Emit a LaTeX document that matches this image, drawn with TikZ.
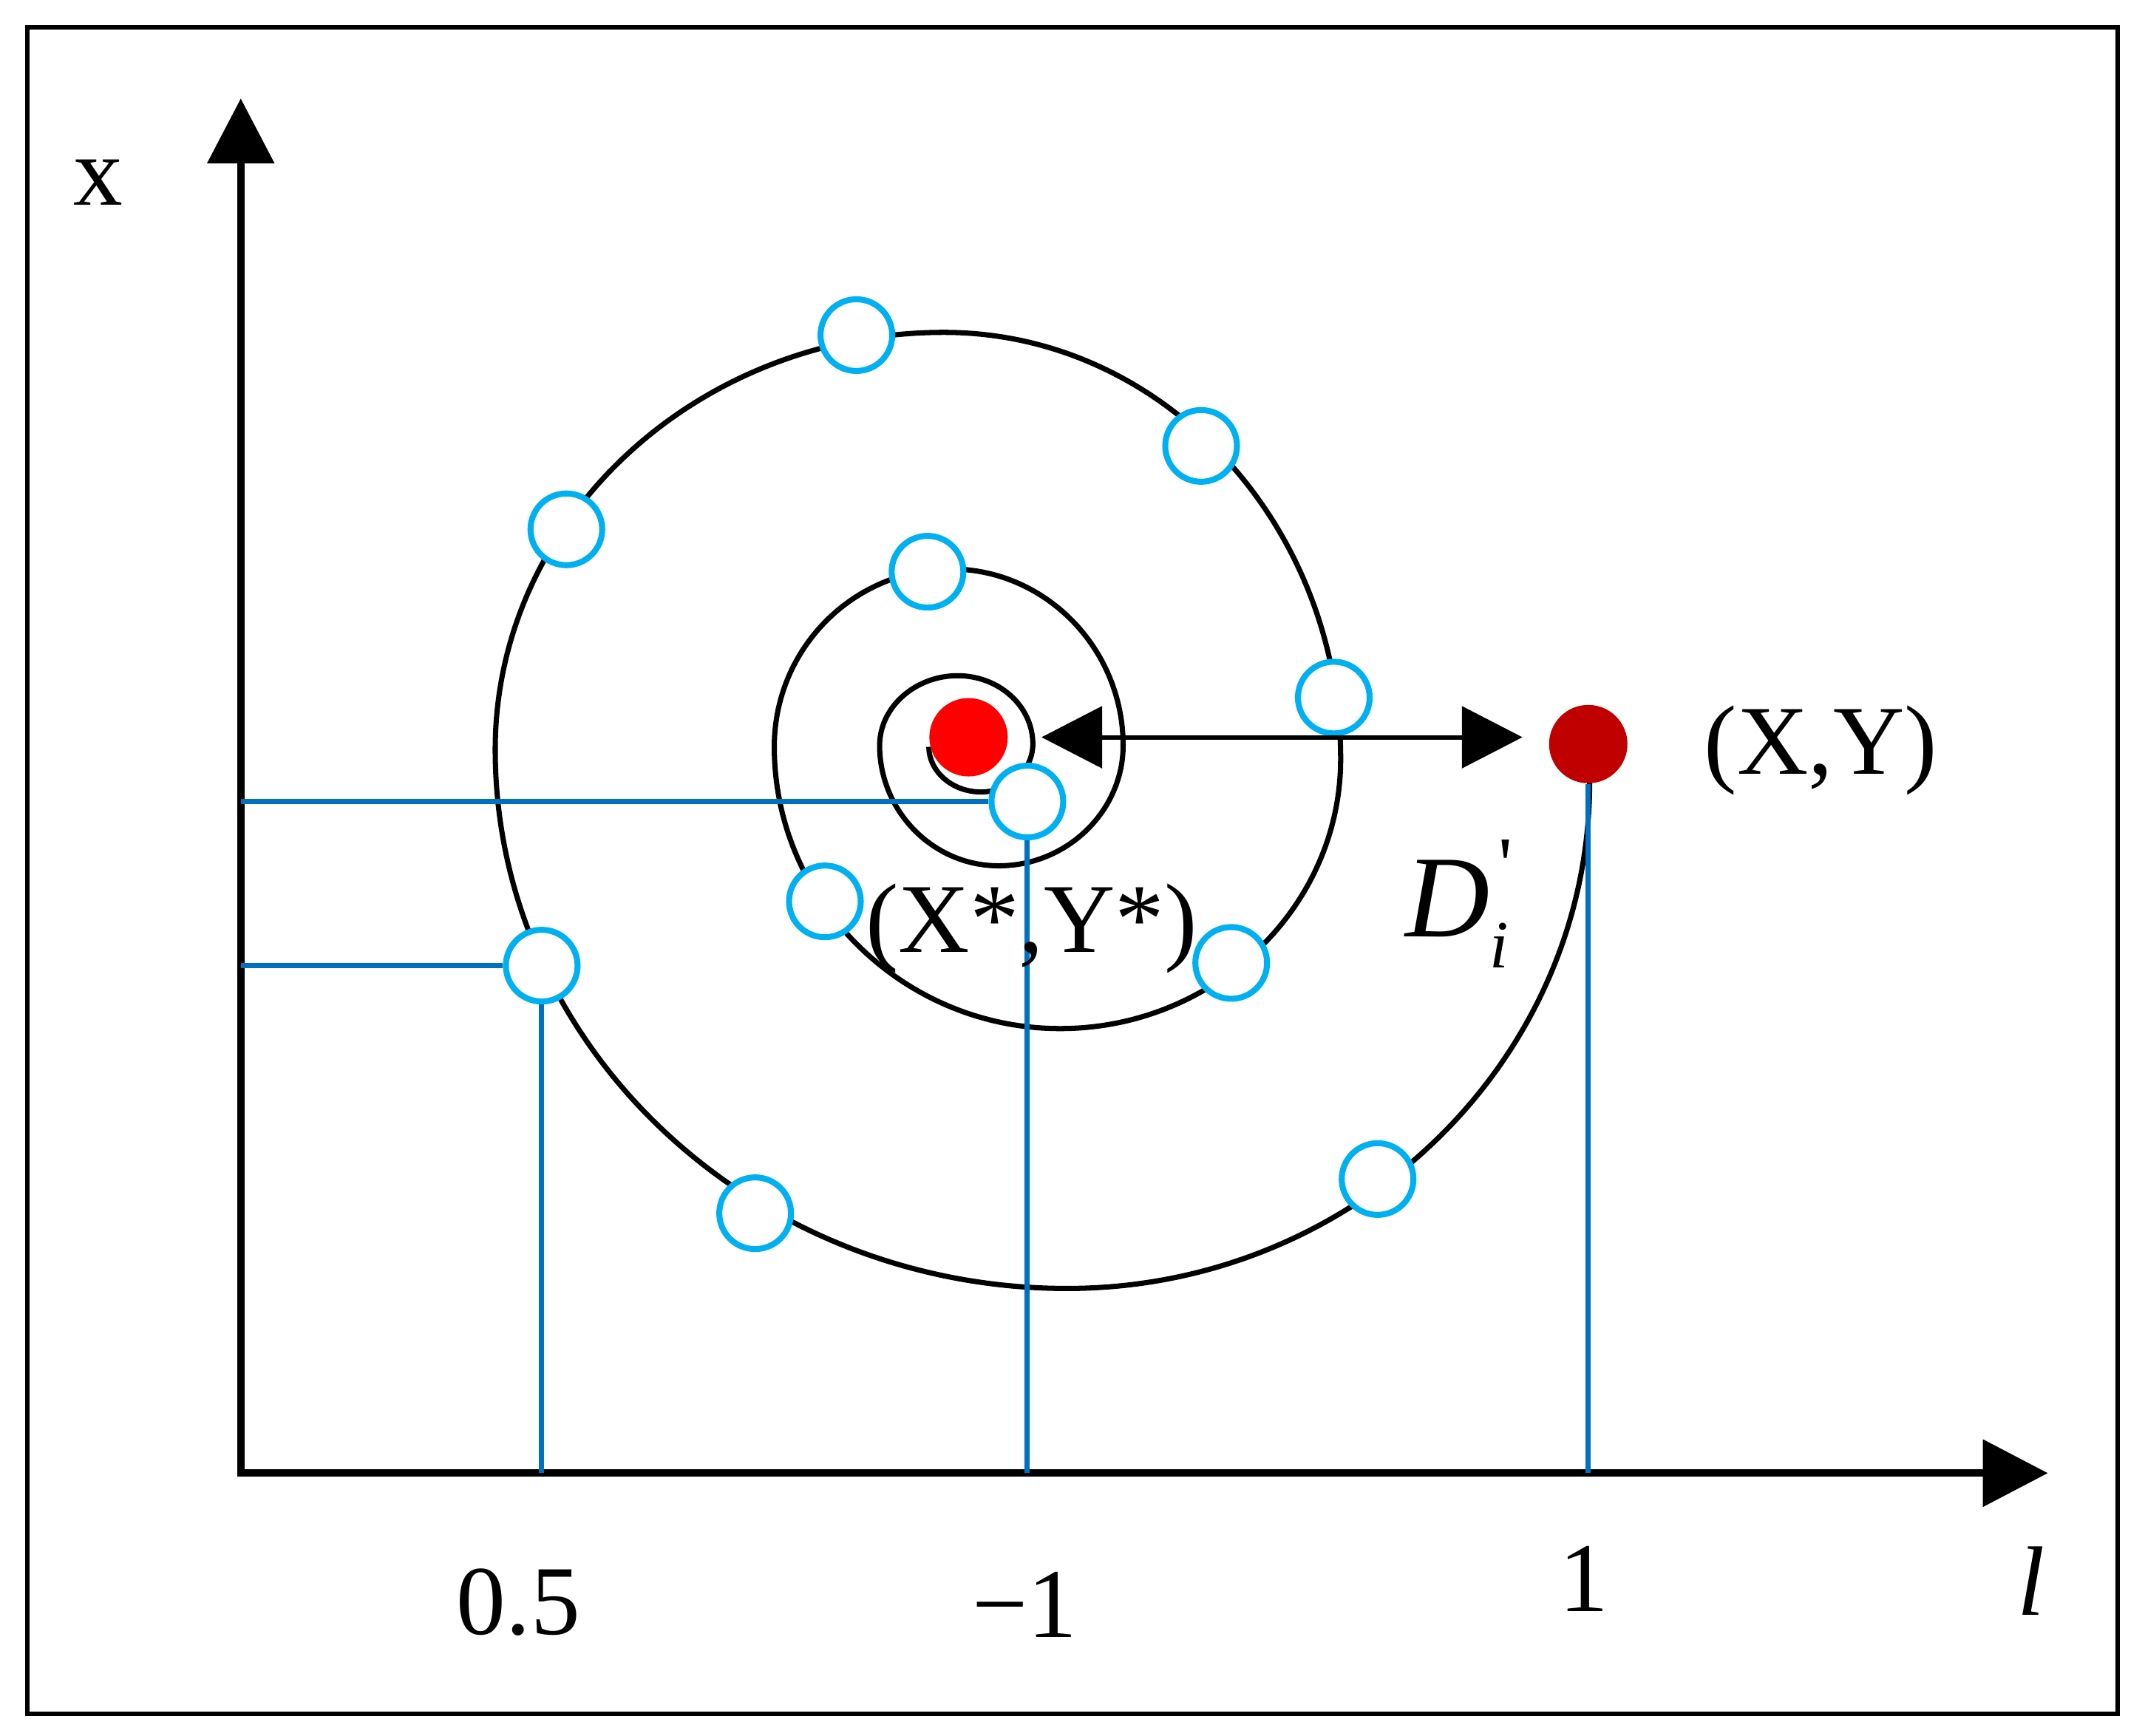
\documentclass[tikz,border=0pt]{standalone}
\usepackage{fontspec}
\setmainfont{Liberation Serif}
\newfontfamily\primefont{Liberation Serif}
\usetikzlibrary{arrows.meta}
\definecolor{samplecyan}{HTML}{00B0F0}
\definecolor{projblue}{HTML}{0070C0}
\definecolor{targetred}{HTML}{C00000}

\begin{document}
\begin{tikzpicture}[x=0.18508mm, y=-0.18508mm,
    every node/.style={font=\fontsize{38}{40}\selectfont},
    sample/.style={circle, draw=samplecyan, fill=white, line width=2.3pt, inner sep=0pt, minimum size=0.97cm},
    dot/.style={circle, inner sep=0pt, minimum size=1.06cm},
    proj/.style={draw=projblue, line width=2pt},
    spiral/.style={line width=2pt},
    axis/.style={line width=2.85pt, line join=miter, {Triangle[length=0.88cm, width=0.89cm]}-{Triangle[length=0.88cm, width=0.89cm]}},
    dist/.style={line width=1.7pt, {Triangle[length=0.82cm, width=0.83cm]}-{Triangle[length=0.82cm, width=0.83cm]}}]
    \useasboundingbox (0,0) rectangle (1568,1269);
    \draw[line width=1.6pt] (20,20) rectangle (1548,1253);
    % Spiral search path, quarter by quarter
    \draw[spiral] (1162,572)
        .. controls (1162,776) and (990,942) .. (780,942)
        .. controls (550,942) and (362,765) .. (362,548)
        .. controls (362,380) and (509,243) .. (690,243)
        .. controls (850,243) and (980,383) .. (980,555)
        .. controls (980,663) and (888,752) .. (775,752)
        .. controls (660,752) and (566,659) .. (566,546)
        .. controls (566,474) and (624,416) .. (695,416)
        .. controls (764,416) and (821,474) .. (821,545)
        .. controls (821,593) and (780,633) .. (730,633)
        .. controls (682,633) and (643,593) .. (643,545)
        .. controls (643,517) and (669,494) .. (700,494)
        .. controls (730,494) and (755,516) .. (755,544)
        .. controls (755,563) and (738,579) .. (717,579)
        .. controls (696,579) and (679,564) .. (679,546);
    % Axes
    \coordinate (O) at (176,1077);
    \coordinate (ytip) at (176,72);
    \coordinate (xtip) at (1497,1077);
    \draw[axis] (ytip) |- (xtip);
    % Nodes
    \node[dot, fill=red] (star) at (708,539) {};
    \node[dot, fill=targetred] (target) at (1161,544) {};
    \node[sample] (c1) at (626,245) {};
    \node[sample] (c2) at (878,326) {};
    \node[sample] (c3) at (414,387) {};
    \node[sample] (c4) at (678,418) {};
    \node[sample] (c5) at (975,510) {};
    \node[sample] (c6) at (751,586) {};
    \node[sample] (c7) at (603,659) {};
    \node[sample] (c8) at (396,706) {};
    \node[sample] (c9) at (900,704) {};
    \node[sample] (c10) at (1007,862) {};
    \node[sample] (c11) at (552,887) {};
    % Projections onto the axes
    \draw[proj] (c6) -- (c6 -| O);
    \draw[proj] (c6) -- (c6 |- O);
    \draw[proj] (c8) -- (c8 -| O);
    \draw[proj] (c8) -- (c8 |- O);
    \draw[proj] (target) -- (target |- O);
    % Distance arrow
    \draw[dist, shorten <=4.5mm, shorten >=8.9mm] (star) -- (star -| target);
    % Labels
    \node[anchor=base] (xlabel) at (72,150) {x};
    \node[anchor=base] (llabel) at (1485,1181) {\textit{l}};
    \node[anchor=base] (tick05) at (379,1195) {0.5};
    \node[anchor=base] (tickm1) at (749,1197) {−1};
    \node[anchor=base] (tick1) at (1158,1178) {1};
    \node[anchor=base] (targetlabel) at (1331,566) {(X,Y)};
    \node[anchor=base] (starlabel) at (754,696) {(X*,Y*)};
    \node[anchor=base west, inner sep=0pt] (dlabel) at (1027,685)
        {{\fontsize{45}{45}\selectfont\itshape D}\rlap{\raisebox{17.6pt}{\hspace{3.3pt}\primefont\fontsize{30}{30}\selectfont '}}\raisebox{-12pt}{\fontsize{26}{26}\selectfont\itshape i}};
\end{tikzpicture}
\end{document}
